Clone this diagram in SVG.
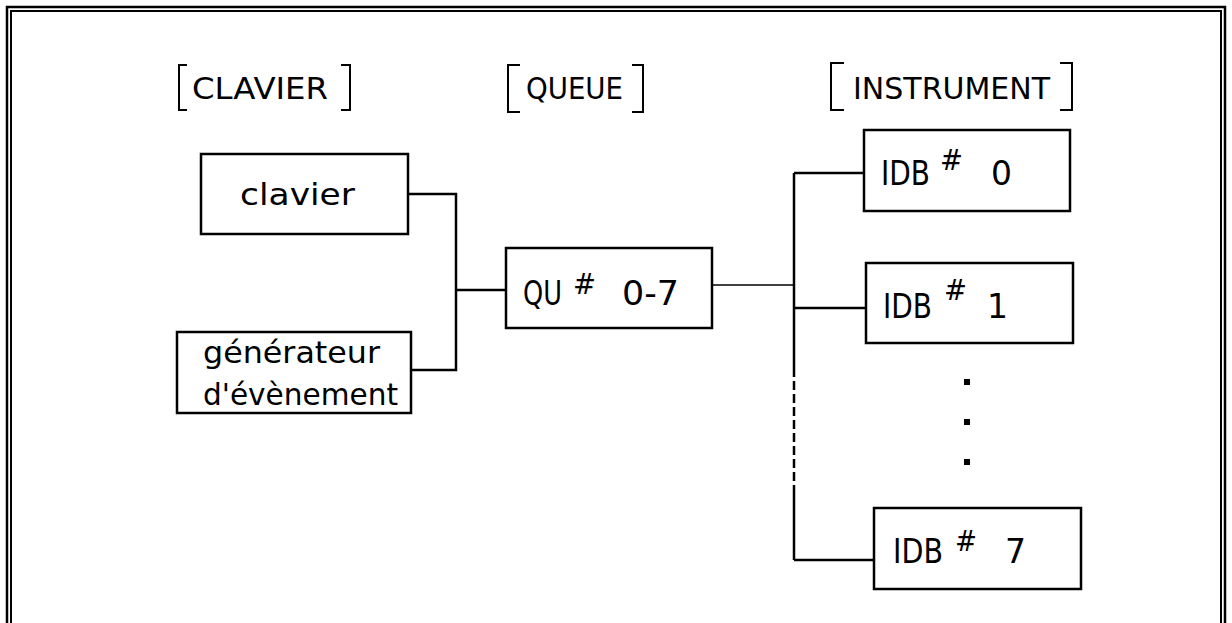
<svg xmlns="http://www.w3.org/2000/svg" width="1232" height="623" viewBox="0 0 1232 623">
<defs>
<style>
.bd{fill:none;stroke:#000;stroke-width:2.5}
.bi{fill:none;stroke:#000;stroke-width:2}
.box{fill:#fff;stroke:#000;stroke-width:2.5}
.ln{fill:none;stroke:#000;stroke-width:2.5}
.thin{fill:none;stroke:#000;stroke-width:1.5}
.br{fill:none;stroke:#000;stroke-width:2}
.t{font-family:"DejaVu Sans","Liberation Sans",sans-serif;font-size:31px;fill:#000}
.c{font-family:"DejaVu Sans","Liberation Sans",sans-serif;font-size:33px;fill:#000}
.s{font-family:"DejaVu Sans","Liberation Sans",sans-serif;font-size:28px;fill:#000}
</style>
</defs>
<rect width="1232" height="623" fill="#fff"/>
<g id="frame">
<path class="bd" d="M7,623 V7 H1225 V623"/>
<path class="bi" d="M11,623 V11 H1221 V623"/>
</g>
<g id="header-clavier">
<path class="br" d="M187,65 H179 V110 H187"/>
<text class="t" x="192" y="99" textLength="136" lengthAdjust="spacingAndGlyphs">CLAVIER</text>
<path class="br" d="M341,65 H350 V110 H341"/>
</g>
<g id="header-queue">
<path class="br" d="M520,65 H508 V112 H520"/>
<text class="t" x="526" y="99" textLength="97" lengthAdjust="spacingAndGlyphs">QUEUE</text>
<path class="br" d="M632,65 H643 V112 H632"/>
</g>
<g id="header-instrument">
<path class="br" d="M844,63 H831 V110 H844"/>
<text class="t" x="853" y="99" textLength="197" lengthAdjust="spacingAndGlyphs">INSTRUMENT</text>
<path class="br" d="M1060,63 H1072 V110 H1060"/>
</g>
<g id="connectors">
<path class="ln" d="M408,194 H456 V370 H411"/>
<path class="ln" d="M456,290 H506"/>
<path class="thin" d="M712,285 H794"/>
<path class="ln" d="M794,173 V368"/>
<path class="ln" d="M794,368 V490" stroke-dasharray="9 4"/>
<path class="ln" d="M794,490 V560"/>
<path class="ln" d="M794,173 H864"/>
<path class="ln" d="M794,308 H866"/>
<path class="ln" d="M794,560 H874"/>
</g>
<g id="clavier">
<rect class="box" x="201" y="154" width="207" height="80"/>
<text class="t" x="240" y="205" textLength="115" lengthAdjust="spacingAndGlyphs">clavier</text>
</g>
<g id="generateur">
<rect class="box" x="177" y="332" width="234" height="81"/>
<text class="t" x="203" y="363" textLength="177" lengthAdjust="spacingAndGlyphs">générateur</text>
<text class="t" x="203" y="405" textLength="195" lengthAdjust="spacingAndGlyphs">d'évènement</text>
</g>
<g id="queue">
<rect class="box" x="506" y="248" width="206" height="80"/>
<text class="c" x="523" y="305" textLength="39" lengthAdjust="spacingAndGlyphs">QU</text>
<text class="s" x="573" y="294" textLength="23" lengthAdjust="spacingAndGlyphs">#</text>
<text class="c" x="622" y="305" textLength="57" lengthAdjust="spacingAndGlyphs">0-7</text>
</g>
<g id="idb0">
<rect class="box" x="864" y="130" width="206" height="81"/>
<text class="c" x="881" y="185" textLength="49" lengthAdjust="spacingAndGlyphs">IDB</text>
<text class="s" x="940" y="170" textLength="23" lengthAdjust="spacingAndGlyphs">#</text>
<text class="c" x="991" y="185">0</text>
</g>
<g id="idb1">
<rect class="box" x="866" y="263" width="207" height="80"/>
<text class="c" x="883" y="318" textLength="49" lengthAdjust="spacingAndGlyphs">IDB</text>
<text class="s" x="944" y="300" textLength="23" lengthAdjust="spacingAndGlyphs">#</text>
<text class="c" x="987" y="318">1</text>
</g>
<g id="ellipsis">
<rect x="964" y="379" width="6" height="6"/>
<rect x="964" y="419" width="6" height="6"/>
<rect x="964" y="459" width="6" height="6"/>
</g>
<g id="idb7">
<rect class="box" x="874" y="508" width="207" height="81"/>
<text class="c" x="893" y="563" textLength="50" lengthAdjust="spacingAndGlyphs">IDB</text>
<text class="s" x="955" y="551" textLength="22" lengthAdjust="spacingAndGlyphs">#</text>
<text class="c" x="1005" y="563">7</text>
</g>
</svg>
